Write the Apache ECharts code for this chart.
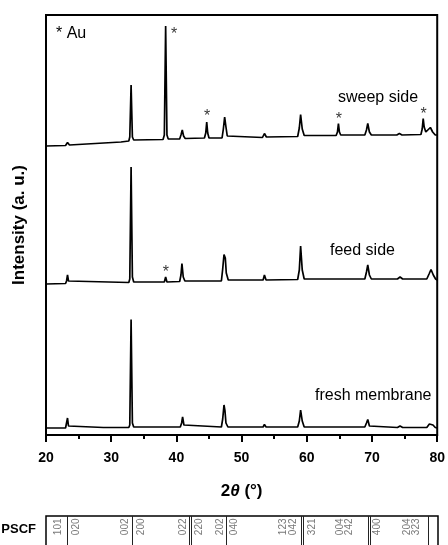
<!DOCTYPE html>
<html>
<head>
<meta charset="utf-8">
<style>
  html, body { margin: 0; padding: 0; background: #fff; }
  #chart { width: 448px; height: 545px; }
</style>
<script src="https://cdn.jsdelivr.net/npm/echarts@6/dist/echarts.min.js"></script>
</head>
<body>
<div id="chart"></div>
<script>
// XRD patterns, [2theta (deg), intensity (a.u., stacked with offsets)]
const freshMembrane = [
  [20, 7], [23.0, 7], [23.15, 9], [23.3, 17], [23.45, 9], [23.6, 7.5],
  [28.8, 7.5], [29.0, 8.5], [29.2, 7.5],
  [32.7, 7.5], [32.85, 10], [33.05, 115.5], [33.25, 12], [33.45, 8],
  [40.6, 8], [40.8, 12], [40.95, 18], [41.15, 10], [41.4, 8],
  [46.9, 8], [47.1, 16], [47.3, 30], [47.45, 24], [47.6, 12], [47.9, 8],
  [53.3, 8], [53.5, 10.5], [53.75, 8],
  [58.6, 8], [58.85, 14], [59.05, 25], [59.3, 14], [59.6, 8],
  [68.9, 8], [69.15, 12], [69.35, 15.5], [69.6, 9], [69.9, 7.5],
  [73.9, 7.5], [74.3, 9], [74.7, 7.5],
  [78.4, 7.5], [78.8, 11], [79.05, 13], [79.35, 10], [79.7, 7.5], [80, 7]
];

const feedSide = [
  [20, 151], [23.0, 151.5], [23.15, 154], [23.3, 160], [23.45, 154], [23.6, 152],
  [32.7, 152.5], [32.85, 156], [33.05, 268], [33.25, 158], [33.45, 153],
  [38.15, 153], [38.35, 158], [38.55, 153],
  [40.5, 153.5], [40.7, 160], [40.85, 171.5], [41.05, 158], [41.3, 154],
  [46.9, 154], [47.1, 166], [47.3, 180.5], [47.5, 177], [47.65, 162], [47.95, 155],
  [53.3, 155], [53.5, 160], [53.75, 155],
  [58.6, 155.5], [58.85, 165], [59.05, 189], [59.3, 165], [59.6, 156],
  [68.9, 156], [69.15, 163], [69.35, 170], [69.6, 160], [69.9, 156],
  [73.9, 156], [74.3, 158], [74.7, 156],
  [78.4, 156], [78.75, 161], [79.05, 165.5], [79.4, 160], [79.75, 156], [80, 155]
];

const sweepSide = [
  [20, 289], [23.0, 289.5], [23.15, 290.5], [23.3, 292.5], [23.45, 290.5], [23.6, 290],
  [31.5, 293], [32.7, 294], [32.85, 298], [33.05, 350], [33.25, 298], [33.45, 295],
  [37.95, 295.5], [38.15, 300], [38.35, 409], [38.55, 300], [38.75, 296],
  [40.5, 296], [40.7, 300], [40.9, 305], [41.1, 299], [41.35, 296.5],
  [44.3, 297], [44.5, 302], [44.65, 313], [44.8, 302], [45.0, 297],
  [47.0, 297], [47.2, 306], [47.4, 318], [47.6, 308], [47.8, 299], [48.1, 297],
  [53.2, 297.5], [53.5, 301.5], [53.8, 298],
  [58.6, 298.5], [58.85, 307], [59.05, 320.5], [59.3, 306], [59.6, 299.5],
  [64.5, 299.5], [64.7, 303], [64.85, 311.5], [65.0, 303], [65.2, 300],
  [68.9, 300], [69.15, 305], [69.35, 311.5], [69.6, 303], [69.9, 300],
  [73.8, 300], [74.2, 301.5], [74.6, 300],
  [77.5, 300.5], [77.7, 306], [77.85, 316.5], [78.0, 308], [78.25, 303],
  [78.55, 304], [78.95, 307.5], [79.3, 303], [79.7, 300], [80, 300]
];

// Au reflections flagged with an asterisk, [2theta, intensity]
const goldMarks = [
  [39.65, 404], [44.7, 322], [64.9, 319], [77.9, 324], [38.37, 166]
];

// x axis ticks
const xMin = 20, xMax = 80, xStep = 10;

// PSCF reference pattern: separator lines and hkl labels (2theta)
const pscfLines = [23.2, 33.2, 41.9, 42.2, 47.55, 59.0, 59.3, 69.3, 69.6, 78.5];
const pscfLabelPos = [21.84, 24.59, 32.09, 34.54, 40.97, 43.42, 46.63, 48.78,
                      56.28, 57.81, 60.72, 65.0, 66.38, 70.67, 75.26, 76.64];
const pscfLabelText = ['101', '020', '002', '200', '022', '220', '202', '040',
                       '123', '042', '321', '004', '242', '400', '204', '323'];

const FONT = 'Liberation Sans, Arial, sans-serif';
const chart = echarts.init(document.getElementById('chart'), null, { renderer: 'canvas' });

const traceStyle = { color: '#000', width: 1.7 };
function trace(name, data) {
  return {
    name, type: 'line', data, xAxisIndex: 0, yAxisIndex: 0,
    showSymbol: false, symbol: 'none', lineStyle: traceStyle, silent: true, z: 3
  };
}

chart.setOption({
  animation: false,
  backgroundColor: '#fff',
  grid: [
    { left: 46, right: 8, top: 15, bottom: 110, show: true,
      borderColor: '#000', borderWidth: 2, backgroundColor: 'transparent' },
    // reference strip runs off the bottom edge of the page
    { left: 46, right: 10, top: 516, height: 60, outerBoundsMode: 'none', show: true,
      borderColor: '#000', borderWidth: 1.5, backgroundColor: 'transparent' }
  ],
  xAxis: [
    {
      gridIndex: 0, type: 'value', min: xMin, max: xMax, interval: xStep,
      name: '{b|2}{i|θ}{b| (°)}', nameLocation: 'middle', nameGap: 48,
      nameTextStyle: {
        rich: {
          b: { fontFamily: FONT, fontWeight: 'bold', fontSize: 17, color: '#000' },
          i: { fontFamily: FONT, fontWeight: 'bold', fontStyle: 'italic', fontSize: 17, color: '#000' }
        }
      },
      axisLine: { onZero: false, lineStyle: { color: '#000', width: 2 } },
      axisTick: { inside: false, length: 7, lineStyle: { color: '#000', width: 2 } },
      minorTick: { show: true, splitNumber: 2, length: 4, lineStyle: { color: '#000', width: 2 } },
      axisLabel: { fontFamily: FONT, fontWeight: 'bold', fontSize: 14, color: '#000', margin: 16 },
      splitLine: { show: false }
    },
    { gridIndex: 1, type: 'value', min: xMin, max: xMax, show: false }
  ],
  yAxis: [
    {
      gridIndex: 0, type: 'value', min: 0, max: 420,
      name: 'Intensity (a. u.)', nameLocation: 'middle', nameGap: 18, nameRotate: 90,
      nameTextStyle: { fontFamily: FONT, fontWeight: 'bold', fontSize: 17, color: '#000' },
      axisLine: { show: false }, axisTick: { show: false }, axisLabel: { show: false },
      splitLine: { show: false }
    },
    { gridIndex: 1, type: 'value', min: 0, max: 1, show: false }
  ],
  series: [
    trace('fresh membrane', freshMembrane),
    trace('feed side', feedSide),
    trace('sweep side', sweepSide),
    {
      name: 'Au', type: 'scatter', data: goldMarks, symbolSize: 0, silent: true,
      label: { show: true, position: 'inside', formatter: '*', offset: [0, 4],
               fontFamily: FONT, fontSize: 16, color: '#000' }
    },
    {
      name: 'PSCF lines', type: 'line', xAxisIndex: 1, yAxisIndex: 1, data: [], silent: true,
      markLine: {
        symbol: 'none', silent: true, animation: false,
        label: { show: false },
        lineStyle: { color: '#222', width: 1, type: 'solid' },
        data: pscfLines.map(v => ({ xAxis: v }))
      }
    },
    {
      name: 'PSCF hkl', type: 'scatter', xAxisIndex: 1, yAxisIndex: 1, symbolSize: 0, silent: true,
      data: pscfLabelPos.map((x, i) => [x, 0.82, pscfLabelText[i]]),
      label: { show: true, position: 'inside', rotate: 90, formatter: p => p.value[2],
               fontFamily: FONT, fontSize: 10, color: '#555' }
    }
  ],
  graphic: [
    { type: 'text', style: { x: 56, y: 34, text: '* Au', font: '16px ' + FONT, fill: '#000', verticalAlign: 'middle' } },
    { type: 'text', style: { x: 338, y: 98, text: 'sweep side', font: '16px ' + FONT, fill: '#000', verticalAlign: 'middle' } },
    { type: 'text', style: { x: 330, y: 251, text: 'feed side', font: '16px ' + FONT, fill: '#000', verticalAlign: 'middle' } },
    { type: 'text', style: { x: 315, y: 396, text: 'fresh membrane', font: '16px ' + FONT, fill: '#000', verticalAlign: 'middle' } },
    { type: 'text', style: { x: 36, y: 529, text: 'PSCF', font: 'bold 13px ' + FONT, fill: '#000', align: 'right', verticalAlign: 'middle' } }
  ]
});
</script>
</body>
</html>
